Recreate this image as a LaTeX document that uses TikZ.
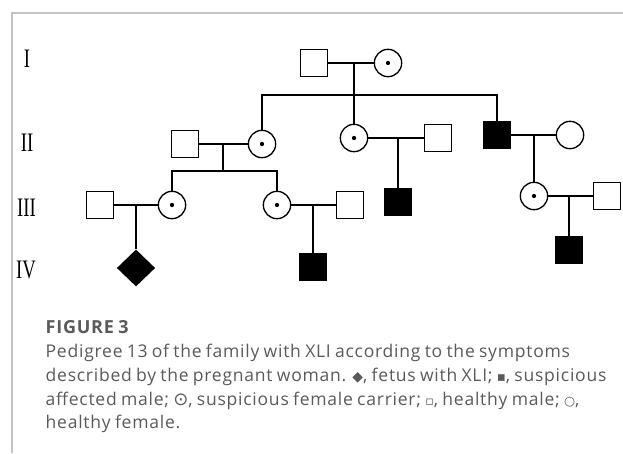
\documentclass[tikz,border=0pt]{standalone}
\usepackage{fontspec}
\setmainfont{Open Sans}
\newfontfamily\capfont[LetterSpace=4.3,WordSpace=0.8]{Open Sans}
\newfontfamily\symfont{DejaVu Sans}
\newfontfamily\romfont{Liberation Serif}
\usetikzlibrary{shapes,arrows}
\definecolor{capgray}{HTML}{5A5A5A}
\definecolor{framegray}{HTML}{C4C4C4}
\tikzstyle{sq} = [rectangle, minimum size=20.5pt, inner sep=0pt, draw=black, fill=white]
\tikzstyle{fsq} = [sq, fill=black]
\tikzstyle{ci} = [circle, minimum size=20.5pt, inner sep=0pt, draw=black, fill=white]
\tikzstyle{cr} = [ci, path picture={\fill[black] (path picture bounding box.center) circle (1.6pt);}]
\tikzstyle{dm} = [diamond, minimum width=29pt, minimum height=28pt, inner sep=0pt, fill=black]
\tikzstyle{gen} = [font=\romfont\fontsize{20}{20}\selectfont, xscale=0.7, transform shape, inner sep=0pt, anchor=base]
\tikzstyle{captext} = [font=\capfont\fontsize{13.15}{14}\selectfont, text=capgray, inner sep=0pt, anchor=base west]
\newcommand{\symb}[2]{{\symfont\fontsize{#1}{#1}\selectfont #2}}

\begin{document}
\begin{tikzpicture}[x=0.75pt,y=-0.75pt,line width=1pt]
			\useasboundingbox (0,0) rectangle (623,453);
			\draw[framegray,line width=0.8pt] (12,453)--(12,13)--(623,13);

			\node[gen](g1) at (27,67){I};
			\node[gen](g2) at (27,151){II};
			\node[gen](g3) at (26.5,216){III};
			\node[gen](g4) at (26,278){IV};

			\node[sq](I1) at (314,63){};
			\node[cr](I2) at (388,63){};
			\node[sq](II1) at (185,144){};
			\node[cr](II2) at (262,144){};
			\node[cr](II3) at (354,138){};
			\node[sq](II4) at (438,138){};
			\node[fsq](II5) at (497,135){};
			\node[ci](II6) at (570,135){};
			\node[sq](III1) at (100,205){};
			\node[cr](III2) at (172,205){};
			\node[cr](III3) at (277,205){};
			\node[sq](III4) at (350,205){};
			\node[fsq](III5) at (398,202){};
			\node[cr](III6) at (534,196){};
			\node[sq](III7) at (607,196){};
			\node[dm](IV1) at (136,268){};
			\node[fsq](IV2) at (313,267){};
			\node[fsq](IV3) at (569,250){};

			\coordinate (m1) at (354,63);
			\coordinate (s1) at (354,95);
			\coordinate (m2) at (223,144);
			\coordinate (s2) at (223,171);
			\coordinate (m3) at (398,138);
			\coordinate (m4) at (534,135);
			\coordinate (m5) at (136,205);
			\coordinate (m6) at (313,205);
			\coordinate (m7) at (569,196);

			\draw (I1)--(I2);
			\draw (m1)--(II3.north);
			\draw (II2.north)|-(s1)-|(II5.north);
			\draw (II1)--(II2);
			\draw (II3)--(II4);
			\draw (II5)--(II6);
			\draw (m2)--(s2);
			\draw (III2.north)|-(s2)-|(III3.north);
			\draw (m3)--(III5.north);
			\draw (m4)--(III6.north);
			\draw (III1)--(III2);
			\draw (III3)--(III4);
			\draw (III6)--(III7);
			\draw (m5)--(IV1.north);
			\draw (m6)--(IV2.north);
			\draw (m7)--(IV3.north);

			\node[captext,font=\capfont\bfseries\fontsize{13.5}{14}\selectfont](c0) at (45,333){FIGURE 3};
			\node[captext](c1) at (45,357){Pedigree 13 of the family with XLI according to the symptoms};
			\node[captext](c2) at (45,381){described by the pregnant woman. \symb{10.5}{◆}, fetus with XLI; \symb{10}{▪}, suspicious};
			\node[captext](c3) at (45,405){affected male; \symb{13.5}{⊙}, suspicious female carrier; \symb{9.5}{▫}, healthy male; \symb{9.5}{○},};
			\node[captext](c4) at (45,428){healthy female.};
			\end{tikzpicture}
\end{document}
